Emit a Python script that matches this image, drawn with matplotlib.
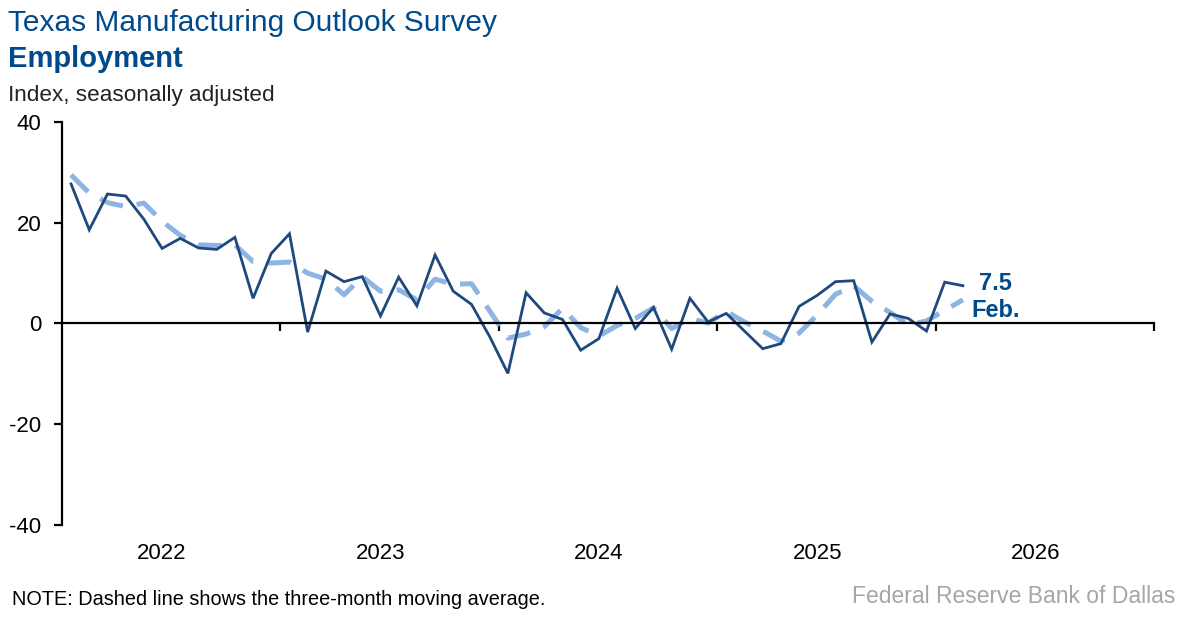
import matplotlib
matplotlib.use('Agg')
import matplotlib.pyplot as plt
from matplotlib.transforms import blended_transform_factory

plt.rcParams['font.family'] = ['Liberation Sans', 'DejaVu Sans']

# monthly index, Jan 2022 .. Feb 2026
employment = [27.7, 18.6, 25.7, 25.3, 20.7, 14.9, 16.9, 15.0, 14.7, 17.1, 5.0, 13.9,
              17.8, -1.7, 10.4, 8.3, 9.3, 1.5, 9.2, 3.5, 13.6, 6.4, 3.8, -2.6,
              -9.9, 6.1, 2.1, 0.8, -5.3, -3.0, 7.0, -1.0, 3.2, -5.1, 5.0, 0.3,
              2.0, -1.5, -5.0, -4.0, 3.4, 5.6, 8.3, 8.5, -3.7, 1.9, 1.0, -1.5,
              8.2, 7.5]
moving_avg = [29.5, 25.9, 24.0, 23.2, 23.9, 20.3, 17.5, 15.6, 15.5, 15.6, 12.3, 12.0,
              12.2, 10.0, 8.8, 5.7, 9.3, 6.4, 6.7, 4.7, 8.8, 7.8, 7.9, 2.5,
              -2.9, -2.1, -0.6, 3.0, -0.8, -2.5, -0.4, 1.0, 3.1, -1.0, 1.0, 0.1,
              2.4, 0.3, -1.5, -3.5, -1.9, 1.7, 5.8, 7.5, 4.4, 2.2, -0.3, 0.5,
              2.6, 4.7]
years = ['2022', '2023', '2024', '2025', '2026']
yticks = [-40, -20, 0, 20, 40]

navy = '#1F497D'
light = '#8DB4E2'
title_blue = '#004A8C'

x = [i + 0.5 for i in range(len(employment))]

fig = plt.figure(figsize=(11.87, 6.17), dpi=100)
ax = fig.add_axes([0.0522, 0.1491, 0.9200, 0.6532])

ax.plot(x, moving_avg, color=light, lw=3.6, dashes=(4.8, 2.8), solid_capstyle='butt')
ax.plot(x, employment, color=navy, lw=2.0, solid_joinstyle='miter')

ax.set_xlim(0, 60)
ax.set_ylim(-40, 40)
ax.set_yticks(yticks)
ax.set_yticklabels([str(v) for v in yticks])
ax.set_xticks([12, 24, 36, 48, 60])
ax.set_xticklabels([])

for s in ['top', 'right']:
    ax.spines[s].set_visible(False)
ax.spines['bottom'].set_position(('data', 0))
ax.spines['left'].set_linewidth(1.6)
ax.spines['bottom'].set_linewidth(1.6)
ax.tick_params(axis='y', direction='out', length=6, width=1.6, labelsize=16, pad=9)
ax.tick_params(axis='x', direction='out', length=6, width=1.6)

tr = blended_transform_factory(ax.transData, ax.transAxes)
for k, yr in enumerate(years):
    ax.text(k * 12 + 5.5, -0.07, yr, transform=tr, ha='center', va='center', fontsize=16)

ax.text(51.3, 8.0, '7.5', color=title_blue, fontsize=17,
        fontweight='bold', ha='center', va='center')
ax.text(51.3, 2.6, 'Feb.', color=title_blue, fontsize=17,
        fontweight='bold', ha='center', va='center')

fig.text(0.007, 0.962, 'Texas Manufacturing Outlook Survey', color=title_blue, fontsize=21.5,
         va='center')
fig.text(0.007, 0.905, 'Employment', color=title_blue, fontsize=21, fontweight='bold',
         va='center')
fig.text(0.007, 0.846, 'Index, seasonally adjusted', color='#222222', fontsize=16.2, va='center')
fig.text(0.01, 0.028, 'NOTE: Dashed line shows the three-month moving average.',
         fontsize=14.3, va='center')
fig.text(0.99, 0.034, 'Federal Reserve Bank of Dallas', color='#A6A6A6', fontsize=16.5,
         ha='right', va='center')

fig.savefig('out.png', dpi=100)
